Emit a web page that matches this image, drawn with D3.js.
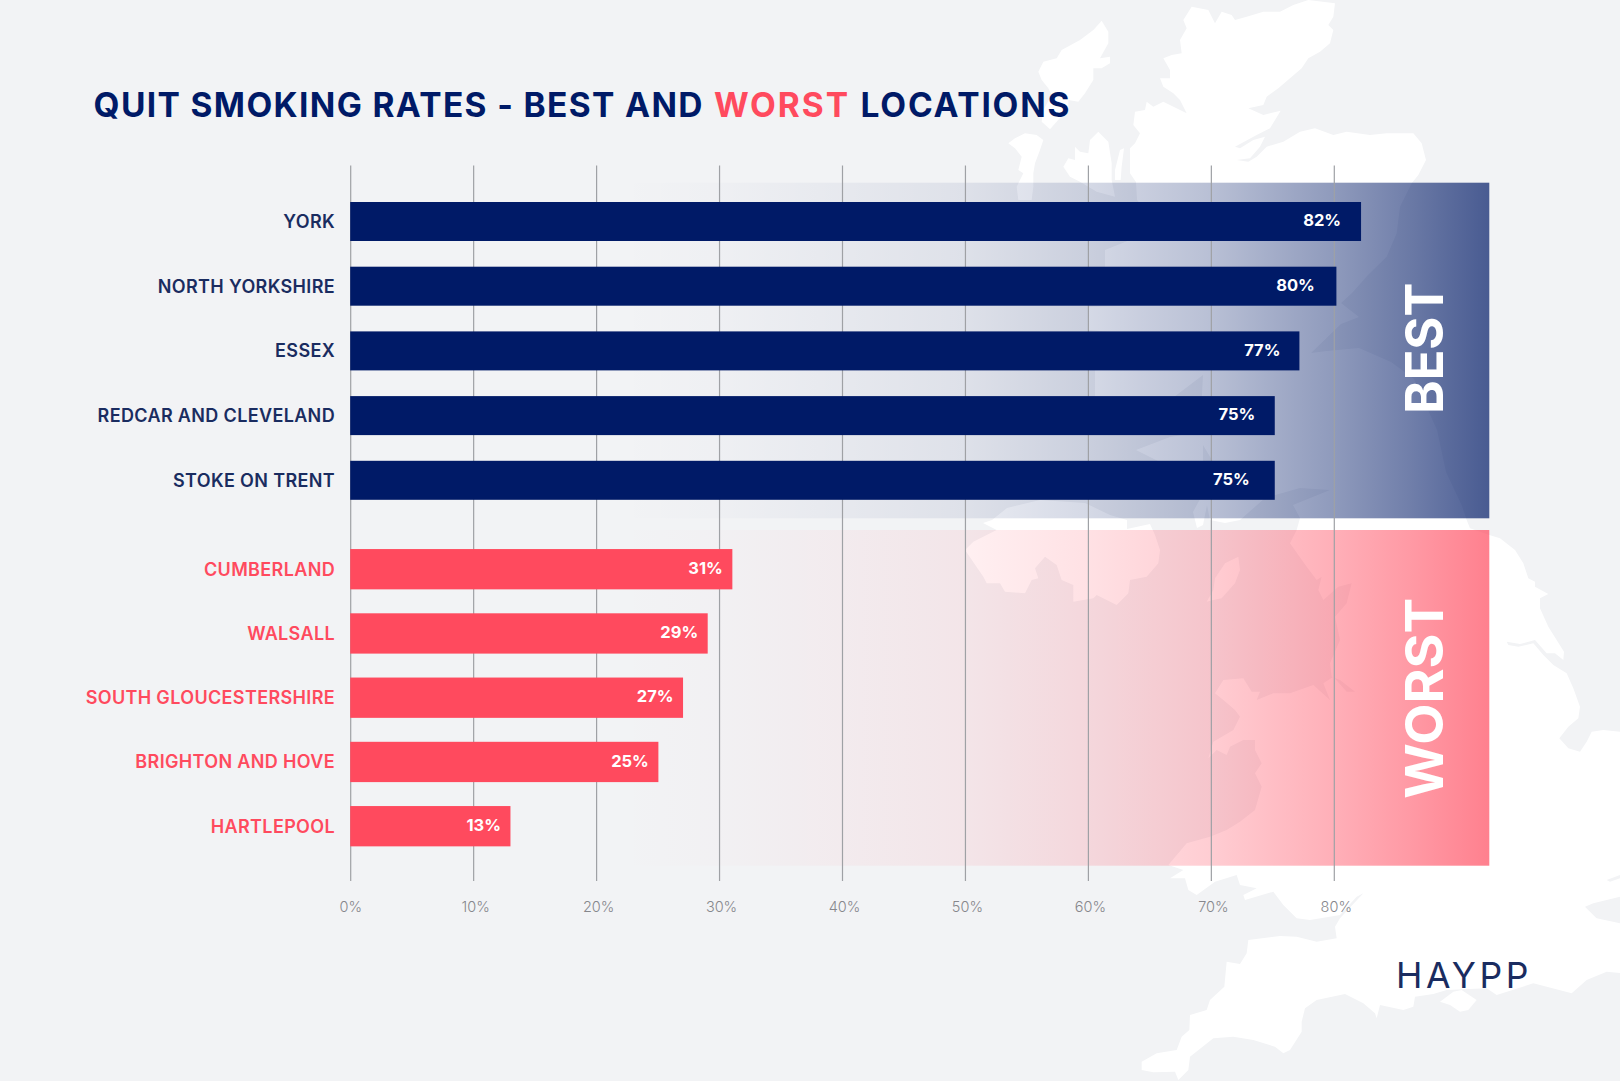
<!DOCTYPE html>
<html><head><meta charset="utf-8">
<script src="https://cdn.jsdelivr.net/npm/d3@7/dist/d3.min.js"></script>
<style>
html,body{margin:0;padding:0;background:#f2f3f5;overflow:hidden}
svg{display:block}
text{font-family:Inter,"Noto Sans",sans-serif}
</style></head><body>
<svg id="c" width="1620" height="1081"></svg>
<script>
// ---- data ----
const bestCategories = ["YORK","NORTH YORKSHIRE","ESSEX","REDCAR AND CLEVELAND","STOKE ON TRENT"];
const bestValues = [82,80,77,75,75];
const worstCategories = ["CUMBERLAND","WALSALL","SOUTH GLOUCESTERSHIRE","BRIGHTON AND HOVE","HARTLEPOOL"];
const worstValues = [31,29,27,25,13];
const tickValues = [0,10,20,30,40,50,60,70,80];

// ---- decorative map outline in crop coordinates ----
const crop=(ox,oy,kx,ky)=>pts=>pts.map(([x,y])=>[ox+x/kx,oy+y/ky]);
const Z4=crop(1100,840,3,3), Z7=crop(1000,0,3,3), Z9=crop(950,520,3,3), Z12=crop(1420,500,3,3), F=p=>p;
const mainland=[].concat(
 Z7([[925,0],[1005,10],[1000,50],[985,75],[1000,90],[990,130],[960,155],[925,175],[905,205],[870,235],[835,265],[800,290],[790,315],[745,325],[790,345],[842,332],[810,385],[770,405],[705,440],[720,445],[760,420],[795,410],[780,440],[750,475],[710,480],[745,485],[770,470],[800,440],[850,425],[900,395],[945,385],[1000,405],[1040,395],[1110,405],[1160,400],[1240,400],[1265,430],[1278,480],[1255,525],[1235,550],[1200,620],[1190,700],[1160,770]]),
 F([[1368,275],[1352,293],[1341,303],[1359,317],[1341,324],[1311,353],[1327,351],[1359,348],[1391,362],[1414,379],[1437,430],[1446,472],[1462,506]]),
 Z12([[140,60],[150,85],[208,105],[240,115],[285,150],[310,190],[325,235],[345,245],[345,260],[385,282],[360,295],[360,325],[385,380],[432,455],[430,480],[405,460],[380,460],[345,420],[300,432],[260,425],[265,435],[295,440],[340,430],[370,465],[400,495],[440,520],[460,565],[480,620],[475,655],[445,680],[418,715],[445,745],[480,755],[500,725],[515,695],[550,690],[600,695]]),
 F([[1620,732],[1620,973]]),
 Z4([[1520,395],[1460,420],[1415,460],[1300,430],[1190,465],[1160,445],[1040,450],[1000,462],[945,470],[940,500],[910,510],[840,495],[830,535],[825,520],[790,490],[735,462],[650,480],[615,505],[605,545],[605,575],[570,630],[550,640],[525,620],[460,600],[400,590],[340,595],[270,650],[265,690],[235,720],[225,695],[160,697],[125,690],[125,665],[170,640],[230,630],[245,590],[268,570],[270,525],[320,510],[330,480],[373,440],[380,365],[420,372],[440,340],[445,300],[540,288],[590,290],[650,305],[710,295],[705,260],[720,235],[790,160],[770,170],[720,225],[630,240],[590,235],[550,195],[520,155],[435,180],[430,165],[470,145],[420,135],[410,105],[345,125],[290,165],[265,150],[255,115],[210,115],[250,90],[205,75]]),
 Z9([[710,970],[780,950],[830,930],[870,905],[915,870],[935,800],[915,760],[935,730],[915,690],[915,660],[880,660],[840,680],[830,705],[800,690],[775,715],[790,665],[850,630],[870,590],[855,570],[820,540],[795,520],[820,480],[880,475],[905,515],[930,515],[920,540],[970,520],[1020,520],[1090,495],[1140,540],[1120,490],[1150,470],[1190,515],[1215,515],[1170,480],[1145,470],[1140,430],[1170,360],[1155,290],[1190,250],[1205,190],[1165,200],[1120,240],[1105,210],[1115,170],[1100,180],[1070,140],[1020,70],[1040,30]]),
 F([[1300,518],[1293,505],[1330,490],[1300,488],[1265,498],[1240,520],[1225,523],[1210,520],[1207,505],[1203,525],[1197,528],[1193,512],[1205,490],[1215,465],[1203,445],[1203,463],[1160,462],[1136,450],[1170,437],[1200,432],[1203,375],[1170,400],[1095,397],[1095,370],[1170,368],[1180,345],[1149,335],[1088,330],[1088,307],[1149,305],[1190,300],[1176,268],[1105,267],[1105,250],[1130,240],[1155,220],[1137,200],[1136,182]]),
 Z7([[390,520],[390,445],[405,430],[420,400],[400,375],[405,335],[435,330],[440,305],[460,320],[490,305],[560,340],[540,300],[520,280],[490,260],[480,235],[510,235],[510,210],[490,175],[515,165],[545,160],[540,120],[560,85],[550,60],[575,20],[625,30],[645,70],[665,35],[695,45],[705,60],[740,50],[790,35],[840,35],[880,15]])
);
const islands=[
 Z7([[305,62],[325,95],[325,130],[300,175],[330,170],[330,190],[305,205],[280,205],[280,240],[255,280],[235,305],[205,300],[205,325],[170,365],[150,388],[125,365],[130,330],[155,285],[145,265],[125,240],[115,215],[130,185],[170,175],[185,150],[240,120],[280,90]]),
 Z7([[25,430],[45,415],[75,400],[110,405],[130,420],[120,450],[105,490],[100,520],[100,560],[95,600],[55,600],[50,560],[70,520],[55,510],[65,470],[45,445]]),
 Z7([[190,500],[205,475],[225,480],[225,440],[240,455],[265,460],[270,420],[295,395],[325,425],[335,490],[335,540],[345,590],[290,575],[240,545],[210,530]]),
 Z7([[345,510],[360,450],[372,445],[365,500],[362,540],[345,540]]),
 Z9([[865,110],[870,150],[855,190],[815,235],[790,240],[770,245],[790,210],[795,175],[825,130]]),
 Z4([[1020,485],[1060,455],[1085,450],[1130,480],[1105,510],[1080,515],[1050,495]]),
 [[983,523],[992,520],[1007,508],[1040,500],[1085,503],[1110,515],[1127,520],[1127,529],[1150,524],[1155,535],[1160,550]].concat(
 Z9([[625,130],[590,170],[540,180],[535,220],[500,255],[440,225],[430,235],[370,245],[370,195],[335,180],[320,135],[285,110],[255,145],[265,175],[245,180],[225,220],[165,215],[150,190],[110,190],[100,170],[45,90],[70,65],[140,30]]))
];
const seaInlets=[
 Z4([[1455,200],[1480,190],[1560,170],[1560,250],[1490,235],[1480,225]]),
 Z4([[1520,120],[1560,105],[1560,115],[1530,125]])
];

// ---- layout ----
const svg=d3.select("#c");
const bg="#f2f3f5", navy="#001a67", red="#ff4a5e", labelNavy="#1a2c60";
const x=d3.scaleLinear().domain([0,80]).range([350.2,1336.4]);
const xAxis=d3.scaleLinear().domain([0,80]).range([350.2,1333.8]);
const yBest=d3.scalePoint().domain(bestCategories).range([221.5,480.3]);
const yWorst=d3.scalePoint().domain(worstCategories).range([569.2,826.2]);

svg.append("rect").attr("width",1620).attr("height",1081).attr("fill",bg);

// map
const line=d3.line().curve(d3.curveLinear);
const map=svg.append("g");
map.selectAll("path.land").data([mainland,...islands]).join("path").attr("class","land").attr("d",d=>line(d)+"Z").attr("fill","#fff");
map.selectAll("path.sea").data(seaInlets).join("path").attr("class","sea").attr("d",d=>line(d)+"Z").attr("fill",bg);

// gradient bands
const defs=svg.append("defs");
const bandLeft=620, bandRight=1489.3;
const stops=[[620,0],[720,.015],[850,.05],[964,.083],[1087,.165],[1210,.275],[1334,.44],[1410,.56],[1489.3,.70]];
[["gBest",navy],["gWorst",red]].forEach(([id,col])=>{
  const g=defs.append("linearGradient").attr("id",id).attr("gradientUnits","userSpaceOnUse")
    .attr("x1",bandLeft).attr("x2",bandRight).attr("y1",0).attr("y2",0);
  stops.forEach(([px,a])=>g.append("stop").attr("offset",(px-bandLeft)/(bandRight-bandLeft)).attr("stop-color",col).attr("stop-opacity",a));
});
svg.append("rect").attr("x",bandLeft).attr("y",182.7).attr("width",bandRight-bandLeft).attr("height",335.6).attr("fill","url(#gBest)");
svg.append("rect").attr("x",bandLeft).attr("y",530).attr("width",bandRight-bandLeft).attr("height",335.7).attr("fill","url(#gWorst)");

// grid + axis
const axis=d3.axisBottom(xAxis).tickValues(tickValues).tickSize(881-165.5).tickPadding(21).tickFormat(d=>d+"%");
const ax=svg.append("g").attr("transform","translate(0,165.5)").call(axis);
ax.select(".domain").remove();
ax.selectAll(".tick line").attr("stroke","#9fa1a5").attr("stroke-width",1.2);
ax.selectAll(".tick text").attr("fill","#86878c").attr("font-size",14.5).attr("font-weight",300)
  .attr("font-family","Inter").attr("dx",d=>d===0?0:2);

// bars
function drawGroup(cats,vals,y,color,labelColor,h,insets){
  const rows=cats.map((c,i)=>({c,v:vals[i],inset:insets[i]}));
  svg.append("g").selectAll("rect").data(rows).join("rect")
    .attr("x",x(0)).attr("y",d=>y(d.c)-h/2).attr("width",d=>x(d.v)-x(0)).attr("height",h).attr("fill",color);
  svg.append("g").selectAll("text").data(rows).join("text")
    .attr("x",335).attr("y",d=>y(d.c)).attr("dy","0.36em").attr("text-anchor","end")
    .attr("font-size",18).attr("font-weight",600).attr("letter-spacing",0.35).attr("fill",labelColor).text(d=>d.c);
  svg.append("g").selectAll("text").data(rows).join("text")
    .attr("x",d=>x(d.v)-d.inset).attr("y",d=>y(d.c)-1.2).attr("dy","0.36em").attr("text-anchor","end")
    .attr("font-size",16.5).attr("font-weight",700).attr("fill","#fff").text(d=>d.v+"%");
}
drawGroup(bestCategories,bestValues,yBest,navy,labelNavy,39,[20,21.6,19,19.5,25]);
drawGroup(worstCategories,worstValues,yWorst,red,red,40.3,[9.5,9.5,9.5,9.5,9.5]);

// title: one text, each coloured run fitted to the width it has in the reference
const title=svg.append("text").attr("y",116.7).attr("font-size",33.5).attr("font-weight",700).attr("fill",navy);
const fit=(str,startX,width,color)=>{
  const t=title.append("tspan").attr("x",startX).text(str+" ");
  if(color) t.attr("fill",color);
  const probe=svg.append("text").attr("font-size",33.5).attr("font-weight",700).text(str);
  const w=probe.node().getComputedTextLength(); probe.remove();
  t.attr("letter-spacing",(width-w)/(str.length-1));
};
fit("QUIT SMOKING RATES - BEST AND",93.5,609);
fit("WORST",714,134,red);
fit("LOCATIONS",860.6,208.8);

// side labels
function side(txt,cy,len){
  svg.append("text").attr("transform",`translate(1442.7,${cy}) rotate(-90)`).attr("text-anchor","middle")
    .attr("font-family","Liberation Sans").attr("font-weight",700).attr("font-size",52.6).attr("fill","#fff")
    .attr("textLength",len).attr("lengthAdjust","spacingAndGlyphs").text(txt);
}
side("BEST",348.3,131); side("WORST",698.3,201);

// logo
svg.append("text").attr("x",1396).attr("y",987.7).attr("font-family","Lato").attr("font-size",35.5).attr("font-weight",400)
  .attr("fill",labelNavy).attr("textLength",132.5).attr("lengthAdjust","spacing").text("HAYPP");
</script></body></html>
